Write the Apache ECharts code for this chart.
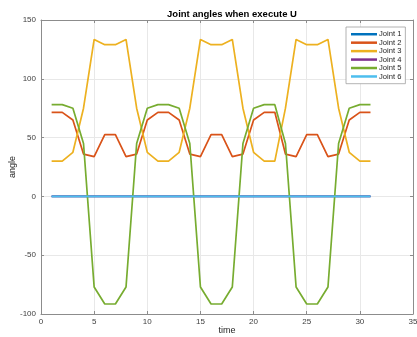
<!DOCTYPE html>
<html>
<head>
<meta charset="utf-8">
<script src="https://cdn.jsdelivr.net/npm/echarts@6/dist/echarts.min.js"></script>
<style>html,body{margin:0;padding:0;background:#fff;}#c{width:417px;height:337px;}</style>
</head>
<body>
<div id="c"></div>
<script>
const time = [1,2,3,4,5,6,7,8,9,10,11,12,13,14,15,16,17,18,19,20,21,22,23,24,25,26,27,28,29,30,31];
const joint1 = [0,0,0,0,0,0,0,0,0,0,0,0,0,0,0,0,0,0,0,0,0,0,0,0,0,0,0,0,0,0,0];
const joint2 = [71.5,71.5,65,36,33.8,52.5,52.5,33.8,36,65,71.5,71.5,65,36,33.8,52.5,52.5,33.8,36,65,71.5,71.5,36,33.8,52.5,52.5,33.8,36,65,71.5,71.5];
const joint3 = [30,30,37.5,75,133.5,129,129,133.5,75,37.5,30,30,37.5,75,133.5,129,129,133.5,75,37.5,30,30,75,133.5,129,129,133.5,75,37.5,30,30];
const joint4 = [0,0,0,0,0,0,0,0,0,0,0,0,0,0,0,0,0,0,0,0,0,0,0,0,0,0,0,0,0,0,0];
const joint5 = [78,78,75,45,-77,-91.5,-91.5,-77,45,75,78,78,75,45,-77,-91.5,-91.5,-77,45,75,78,78,45,-77,-91.5,-91.5,-77,45,75,78,78];
const joint6 = [0,0,0,0,0,0,0,0,0,0,0,0,0,0,0,0,0,0,0,0,0,0,0,0,0,0,0,0,0,0,0];
const names = ['Joint 1','Joint 2','Joint 3','Joint 4','Joint 5','Joint 6'];
const values = [joint1, joint2, joint3, joint4, joint5, joint6];
const colors = ['#0072BD','#D95319','#EDB120','#7E2F8E','#77AC30','#4DBEEE'];

const font = 'Liberation Sans, Helvetica, Arial, sans-serif';
const chart = echarts.init(document.getElementById('c'), null, {renderer:'canvas'});
const axisLineStyle = {color:'#8c8c8c', width:1};
chart.setOption({
  animation:false,
  backgroundColor:'#fff',
  title:{text:'Joint angles when execute U', left:227, textAlign:'center', top:4,
    textStyle:{fontFamily:font, fontSize:9.5, fontWeight:'bold', color:'#000'}},
  legend:{orient:'vertical', left:346, top:27, padding:[3,4,3,5], itemGap:0,
    itemWidth:26, itemHeight:2.5, icon:'rect',
    borderColor:'#a0a0a0', borderWidth:0.8, backgroundColor:'#fff', borderRadius:0,
    textStyle:{fontFamily:font, fontSize:7.6, color:'#262626', lineHeight:8.45, padding:[0,0,0,-3]},
    data:names},
  grid:{left:41, right:4, top:20, bottom:23, containLabel:false, outerBoundsMode:'none'},
  xAxis:[{type:'value', min:0, max:35, interval:5, position:'bottom',
    name:'time', nameLocation:'middle', nameGap:12, nameMoveOverlap:false,
    nameTextStyle:{fontFamily:font, fontSize:9, color:'#262626'},
    axisLine:{show:true, onZero:false, lineStyle:axisLineStyle},
    axisTick:{show:true, inside:true, length:3, lineStyle:axisLineStyle},
    axisLabel:{fontFamily:font, fontSize:8, color:'#404040', margin:4},
    splitLine:{show:true, lineStyle:{color:'#e8e8e8', width:1}}},
   {type:'value', min:0, max:35, interval:5, position:'top',
    axisLine:{show:true, onZero:false, lineStyle:axisLineStyle},
    axisTick:{show:true, inside:true, length:3, lineStyle:axisLineStyle},
    axisLabel:{show:false}, splitLine:{show:false}}],
  yAxis:[{type:'value', min:-100, max:150, interval:50, position:'left',
    name:'angle', nameLocation:'middle', nameGap:24, nameMoveOverlap:false,
    nameTextStyle:{fontFamily:font, fontSize:9, color:'#262626'},
    axisLine:{show:true, onZero:false, lineStyle:axisLineStyle},
    axisTick:{show:true, inside:true, length:3, lineStyle:axisLineStyle},
    axisLabel:{fontFamily:font, fontSize:8, color:'#404040', margin:5},
    splitLine:{show:true, lineStyle:{color:'#e8e8e8', width:1}}},
   {type:'value', min:-100, max:150, interval:50, position:'right',
    axisLine:{show:true, onZero:false, lineStyle:axisLineStyle},
    axisTick:{show:true, inside:true, length:3, lineStyle:axisLineStyle},
    axisLabel:{show:false}, splitLine:{show:false}}],
  series: names.map((n,i)=>({
    name:n, type:'line', xAxisIndex:0, yAxisIndex:0,
    data: time.map((t,k)=>[t, values[i][k]]),
    showSymbol:false, symbol:'none',
    lineStyle:{color:colors[i], width:1.7}, itemStyle:{color:colors[i]},
    z: 2+i
  }))
});
</script>
</body>
</html>
